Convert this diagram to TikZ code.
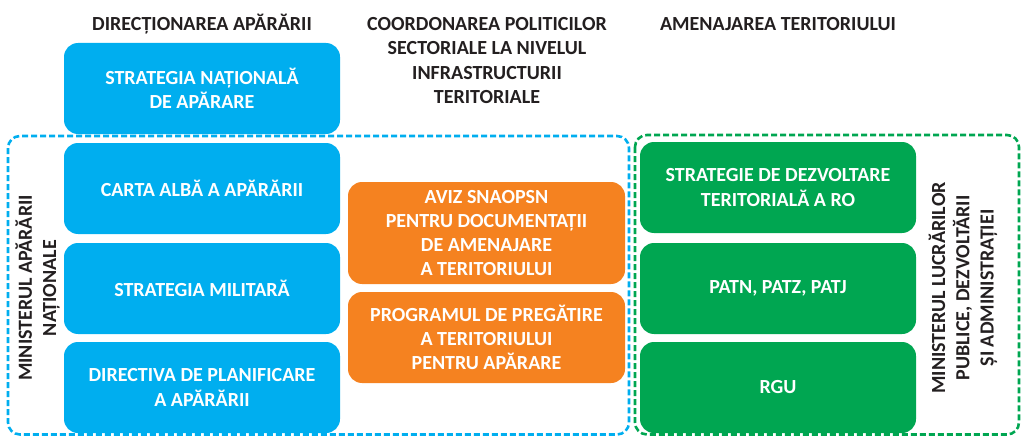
\documentclass[tikz,border=0pt]{standalone}
\usepackage{fontspec}
\setmainfont{Carlito}
\definecolor{cblue}{HTML}{00AEEF}
\definecolor{corange}{HTML}{F58220}
\definecolor{cgreen}{HTML}{00A651}
\definecolor{ctext}{HTML}{231F20}
\tikzset{
  txt/.style={font=\fontsize{20}{24.3}\selectfont\bfseries, align=center},
  boxb/.style={txt, text=white, rounded corners=14pt, minimum width=276pt, inner sep=0pt},
  bluebox/.style={boxb, fill=cblue},
  orangebox/.style={boxb, fill=corange, minimum width=277pt},
  greenbox/.style={boxb, fill=cgreen},
  hdr/.style={txt, text=ctext},
  group/.style={dash pattern=on 6pt off 3pt, line width=2.6pt, rounded corners=12pt},
}
\begin{document}
\begin{tikzpicture}[x=1pt,y=-1pt]
\useasboundingbox (0,0) rectangle (1021,436);
% dashed groups
\draw[group, cblue] (8,136) rectangle (629,434.5);
\draw[group, cgreen] (635,135) rectangle (1019,434.5);
% headers
\node[hdr] (h1) at (202,24) {DIRECȚIONAREA APĂRĂRII};
\node[hdr] (h2) at (487,60.5) {COORDONAREA POLITICILOR\\SECTORIALE LA NIVELUL\\INFRASTRUCTURII\\TERITORIALE};
\node[hdr] (h3) at (778,24) {AMENAJAREA TERITORIULUI};
% blue boxes
\node[bluebox, minimum height=91pt] (b1) at (202,88.5) {STRATEGIA NAȚIONALĂ\\DE APĂRARE};
\node[bluebox, minimum height=91pt] (b2) at (202,188.5) {CARTA ALBĂ A APĂRĂRII};
\node[bluebox, minimum height=91pt] (b3) at (202,288.5) {STRATEGIA MILITARĂ};
\node[bluebox, minimum height=91pt] (b4) at (202,387.5) {DIRECTIVA DE PLANIFICARE\\A APĂRĂRII};
% orange boxes
\node[orangebox, minimum height=102pt] (o1) at (486.5,233) {AVIZ SNAOPSN\\PENTRU DOCUMENTAȚII\\DE AMENAJARE\\A TERITORIULUI};
\node[orangebox, minimum height=91pt] (o2) at (486.5,337.5) {PROGRAMUL DE PREGĂTIRE\\A TERITORIULUI\\PENTRU APĂRARE};
% green boxes
\node[greenbox, minimum height=91pt] (g1) at (778,187.5) {STRATEGIE DE DEZVOLTARE\\TERITORIALĂ A RO};
\node[greenbox, minimum height=91pt] (g2) at (778,288.5) {PATN, PATZ, PATJ};
\node[greenbox, minimum height=91pt] (g3) at (778,387.5) {RGU};
% rotated labels
\node[hdr, rotate=90] (l1) at (37.5,288) {MINISTERUL APĂRĂRII\\NAȚIONALE};
\node[hdr, rotate=90] (l2) at (963,288) {MINISTERUL LUCRĂRILOR\\PUBLICE, DEZVOLTĂRII\\ȘI ADMINISTRAȚIEI};
\end{tikzpicture}
\end{document}
